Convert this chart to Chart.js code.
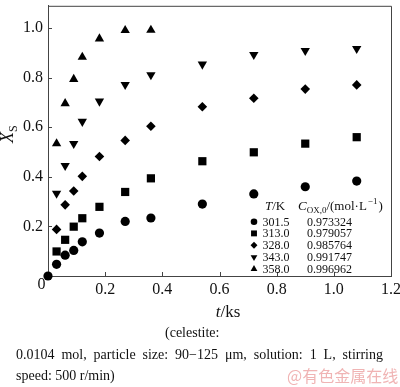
<!DOCTYPE html>
<html>
<head>
<meta charset="utf-8">
<script src="https://cdn.jsdelivr.net/npm/chart.js@4.4.1/dist/chart.umd.min.js"></script>
<style>
  html, body { margin: 0; padding: 0; background: #fff; }
  #wrap { position: relative; width: 400px; height: 387px; }
</style>
</head>
<body>
<div id="wrap"><canvas id="chart" width="400" height="387"></canvas></div>
<script>
// =====================================
// DATA
// =====================================

// time, ks
const timeKs = [0, 0.03, 0.06, 0.09, 0.12, 0.18, 0.27, 0.36, 0.54, 0.72, 0.90, 1.08];

// conversion X_S for each temperature
const xs3015 = [0, 0.047, 0.084, 0.103, 0.138, 0.173, 0.220, 0.234, 0.290, 0.331, 0.360, 0.383];
const xs3130 = [null, 0.099, 0.146, 0.199, 0.233, 0.279, 0.339, 0.394, 0.463, 0.499, 0.534, 0.560];
const xs3280 = [null, 0.188, 0.287, 0.343, 0.402, 0.482, 0.547, 0.604, 0.683, 0.717, 0.754, 0.771];
const xs3430 = [null, 0.333, 0.445, 0.534, 0.623, 0.705, 0.772, 0.811, 0.854, 0.893, 0.909, 0.917];
const xs3580 = [null, 0.534, 0.696, 0.794, 0.883, 0.957, 0.991, 0.992];

const tempLabels = ["301.5", "313.0", "328.0", "343.0", "358.0"];
const concLabels = ["0.973324", "0.979057", "0.985764", "0.991747", "0.996962"];

const xTicks = [0, 0.2, 0.4, 0.6, 0.8, 1.0, 1.2];
const yTicks = [0, 0.2, 0.4, 0.6, 0.8, 1.0];

// =====================================
// STYLE
// =====================================

const SERIF = "'Liberation Serif', 'Times New Roman', serif";
const AXIS_COLOR = "#444";

const seriesStyle = [
    { style: "circle", radius: 4.6, rotation: 0 },
    { style: "rect", radius: 5.8, rotation: 0 },
    { style: "rectRot", radius: 4.8, rotation: 0 },
    { style: "triangle", radius: 5.4, rotation: 180 },
    { style: "triangle", radius: 5.4, rotation: 0 }
];

const seriesValues = [xs3015, xs3130, xs3280, xs3430, xs3580];

function toPoints(values) {
    const pts = [];
    values.forEach((v, i) => {
        if (v !== null) pts.push({ x: timeKs[i], y: v });
    });
    return pts;
}

// small symbol painter for the legend
function drawSymbol(ctx, style, x, y, r, rotation) {
    ctx.beginPath();
    if (style === "circle") {
        ctx.arc(x, y, r, 0, Math.PI * 2);
    } else if (style === "rect") {
        const s = r * Math.SQRT1_2;
        ctx.rect(x - s, y - s, 2 * s, 2 * s);
    } else if (style === "rectRot") {
        ctx.moveTo(x, y - r);
        ctx.lineTo(x + r, y);
        ctx.lineTo(x, y + r);
        ctx.lineTo(x - r, y);
    } else {
        let rad = rotation * Math.PI / 180;
        for (let k = 0; k < 3; k++) {
            const px = x + Math.sin(rad) * r;
            const py = y - Math.cos(rad) * r;
            if (k === 0) ctx.moveTo(px, py); else ctx.lineTo(px, py);
            rad += 2 * Math.PI / 3;
        }
    }
    ctx.closePath();
    ctx.fill();
}

// =====================================
// DECORATION PLUGIN
// =====================================

const decoPlugin = {
    id: "deco",
    beforeDatasetsDraw(chart) {
        const ctx = chart.ctx;
        const a = chart.chartArea;
        const xs = chart.scales.x;
        const ys = chart.scales.y;

        ctx.save();
        ctx.strokeStyle = AXIS_COLOR;
        ctx.lineWidth = 1;

        // top and right frame
        ctx.beginPath();
        ctx.moveTo(a.left, a.top + 0.5);
        ctx.lineTo(a.right + 0.5, a.top + 0.5);
        ctx.lineTo(a.right + 0.5, a.bottom);
        ctx.stroke();

        // inward ticks
        ctx.beginPath();
        xTicks.slice(1, -1).forEach(v => {
            const px = Math.round(xs.getPixelForValue(v)) + 0.5;
            ctx.moveTo(px, a.bottom);
            ctx.lineTo(px, a.bottom - 4);
        });
        yTicks.slice(1).forEach(v => {
            const py = Math.round(ys.getPixelForValue(v)) + 0.5;
            ctx.moveTo(a.left, py);
            ctx.lineTo(a.left + 4, py);
        });
        ctx.stroke();
        ctx.restore();
    },
    afterDraw(chart) {
        const ctx = chart.ctx;
        ctx.save();
        ctx.fillStyle = "#111";
        ctx.textBaseline = "alphabetic";

        // origin label
        ctx.font = "16px " + SERIF;
        ctx.textAlign = "center";
        ctx.fillText("0", 41.5, 289);

        // y title X_S
        ctx.save();
        ctx.translate(13, 143);
        ctx.rotate(-Math.PI / 2);
        ctx.textAlign = "left";
        ctx.font = "italic 18px " + SERIF;
        ctx.fillText("X", 0, 0);
        const wX = ctx.measureText("X").width;
        ctx.font = "12px " + SERIF;
        ctx.fillText("S", wX, 4);
        ctx.restore();

        // x title t/ks
        ctx.textAlign = "left";
        ctx.font = "italic 17px " + SERIF;
        const wt = ctx.measureText("t").width;
        ctx.font = "17px " + SERIF;
        const wks = ctx.measureText("/ks").width;
        let tx = 228 - (wt + wks) / 2;
        ctx.font = "italic 17px " + SERIF;
        ctx.fillText("t", tx, 317);
        ctx.font = "17px " + SERIF;
        ctx.fillText("/ks", tx + wt, 317);

        // legend header
        ctx.font = "italic 13px " + SERIF;
        ctx.fillText("T", 265, 210);
        let w = ctx.measureText("T").width;
        ctx.font = "13px " + SERIF;
        ctx.fillText("/K", 265 + w, 210);

        let cx = 298;
        ctx.font = "italic 13px " + SERIF;
        ctx.fillText("C", cx, 210);
        cx += ctx.measureText("C").width;
        ctx.font = "9px " + SERIF;
        ctx.fillText("OX,0", cx, 213);
        cx += ctx.measureText("OX,0").width;
        ctx.font = "13px " + SERIF;
        ctx.fillText("/(mol\u00b7L", cx, 210);
        cx += ctx.measureText("/(mol\u00b7L").width;
        ctx.font = "9px " + SERIF;
        ctx.fillText("\u22121", cx + 1, 204);
        cx += ctx.measureText("\u22121").width + 2;
        ctx.font = "13px " + SERIF;
        ctx.fillText(")", cx, 210);

        // legend rows
        const rowY = [221.7, 233.4, 245.3, 257.2, 269];
        ctx.font = "12px " + SERIF;
        tempLabels.forEach((t, i) => {
            const s = seriesStyle[i];
            ctx.fillStyle = "#000";
            drawSymbol(ctx, s.style, 254, rowY[i], s.radius * 0.72, s.rotation);
            ctx.fillStyle = "#111";
            ctx.fillText(t, 262.5, rowY[i] + 4);
            ctx.fillText(concLabels[i], 307, rowY[i] + 4);
        });

        // caption
        ctx.font = "14px " + SERIF;
        ctx.fillText("(celestite:", 165, 337);
        const words = "0.0104 mol, particle size: 90\u2212125 \u03bcm, solution: 1 L, stirring".split(" ");
        const total = words.reduce((s, wd) => s + ctx.measureText(wd).width, 0);
        const gap = (383 - 16 - total) / (words.length - 1);
        let wx = 16;
        words.forEach(wd => {
            ctx.fillText(wd, wx, 359);
            wx += ctx.measureText(wd).width + gap;
        });
        ctx.fillText("speed: 500 r/min)", 16, 380);

        // watermark
        ctx.fillStyle = "#f0b4b4";
        ctx.font = "16px 'Noto Sans CJK SC', sans-serif";
        ctx.fillText("@\u6709\u8272\u91d1\u5c5e\u5728\u7ebf", 287, 382);

        ctx.restore();
    }
};

// =====================================
// CHART
// =====================================

const ctx = document.getElementById("chart").getContext("2d");

new Chart(ctx, {
    type: "scatter",
    data: {
        datasets: seriesValues.map((vals, i) => ({
            label: tempLabels[i] + " K",
            data: toPoints(vals),
            pointStyle: seriesStyle[i].style,
            pointRadius: seriesStyle[i].radius,
            pointRotation: seriesStyle[i].rotation,
            backgroundColor: "#000",
            borderColor: "#000",
            borderWidth: 0,
            showLine: false,
            clip: false
        }))
    },
    options: {
        responsive: false,
        animation: false,
        layout: { padding: { left: 0, right: 9, top: 1, bottom: 0 } },
        plugins: {
            legend: { display: false },
            tooltip: { enabled: false }
        },
        scales: {
            x: {
                type: "linear",
                min: 0,
                max: 1.2,
                afterBuildTicks: s => { s.ticks = xTicks.map(v => ({ value: v })); },
                afterFit: s => { s.height = 111; s.paddingLeft = 0; s.paddingRight = 0; },
                ticks: {
                    callback: v => (v === 0 ? "" : v.toFixed(1)),
                    font: { family: SERIF, size: 16 },
                    color: "#111",
                    padding: 4,
                    maxRotation: 0,
                    autoSkip: false
                },
                grid: { drawOnChartArea: false, drawTicks: false },
                border: { color: AXIS_COLOR, width: 1 }
            },
            y: {
                type: "linear",
                min: 0,
                max: 1.09,
                afterBuildTicks: s => { s.ticks = yTicks.map(v => ({ value: v })); },
                afterFit: s => { s.width = 48; s.paddingTop = 0; s.paddingBottom = 0; },
                ticks: {
                    callback: v => (v === 0 ? "" : v.toFixed(1)),
                    font: { family: SERIF, size: 16 },
                    color: "#111",
                    padding: 5,
                    autoSkip: false
                },
                grid: { drawOnChartArea: false, drawTicks: false },
                border: { color: AXIS_COLOR, width: 1 }
            }
        }
    },
    plugins: [decoPlugin]
});
</script>
</body>
</html>
